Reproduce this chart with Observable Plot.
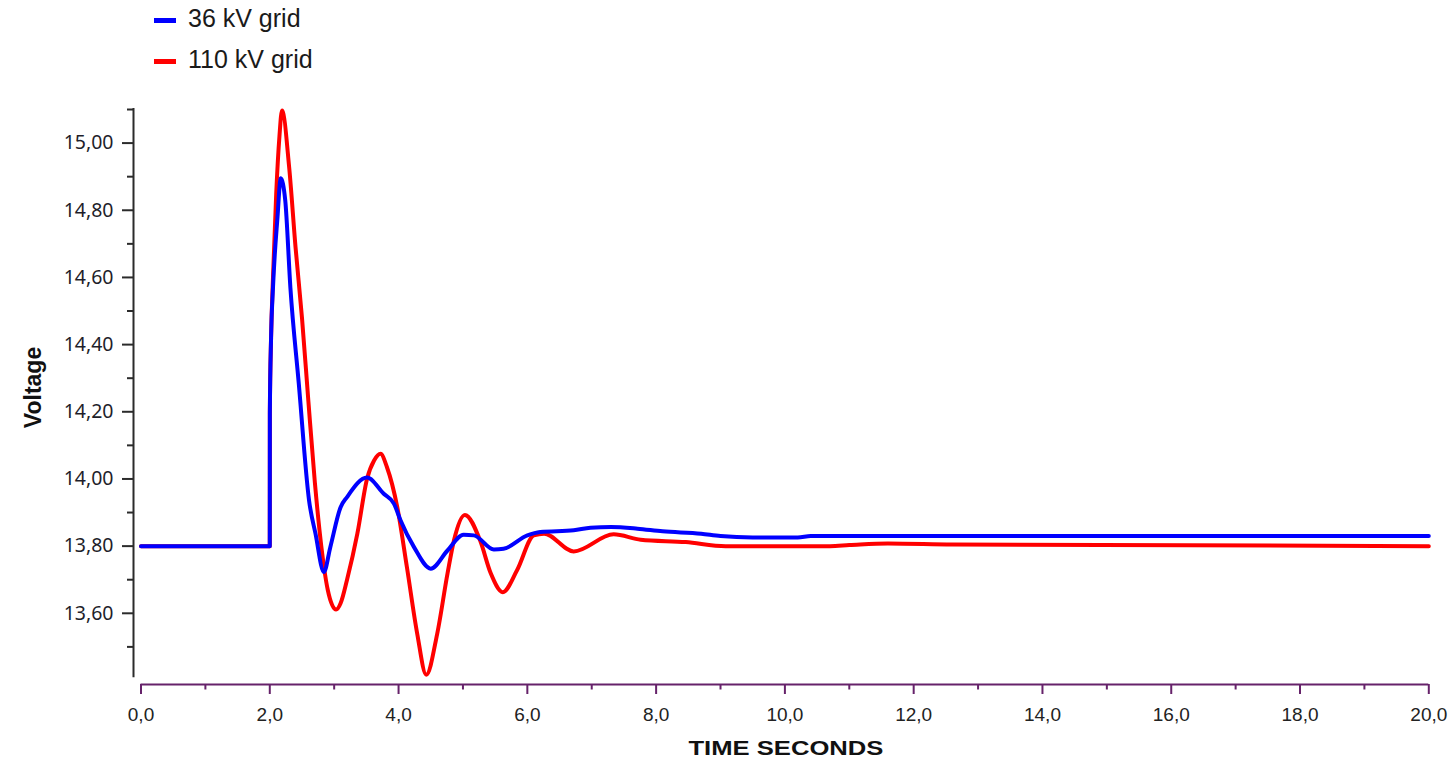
<!DOCTYPE html>
<html>
<head>
<meta charset="utf-8">
<script src="https://cdn.jsdelivr.net/npm/d3@7"></script>
<script src="https://cdn.jsdelivr.net/npm/@observablehq/plot@0.6"></script>
<style>
  html, body { margin: 0; padding: 0; background: #fff; overflow: hidden; }
  #legend { position: relative; height: 90px; width: 1449px; font-family: "Liberation Sans", Arial, sans-serif; }
  .sw { position: absolute; width: 22px; height: 5px; }
  .lt { position: absolute; font-size: 25px; line-height: 25px; color: #1a1a1a; white-space: nowrap; }
</style>
</head>
<body>
<div id="legend"></div>
<div id="chart"></div>
<script>
// ---- data ----
const seriesNames = ["36 kV grid", "110 kV grid"];
const seriesColors = ["#0000ff", "#ff0000"];

const time36 = [0, 2.0, 2.001, 2.02, 2.05, 2.12, 2.17, 2.24, 2.32, 2.45, 2.61, 2.71, 2.84, 2.94, 3.10, 3.20, 3.51, 3.77, 3.93, 4.03, 4.24, 4.50, 4.76, 5.01, 5.17, 5.48, 5.63, 6.0, 6.2, 6.72, 6.98, 7.3, 7.71, 8.1, 8.7, 9.0, 9.5, 10.2, 10.4, 20];
const volt36 = [13.80, 13.80, 14.195, 14.42, 14.57, 14.78, 14.895, 14.83, 14.57, 14.285, 13.936, 13.837, 13.723, 13.797, 13.916, 13.946, 14.004, 13.956, 13.926, 13.877, 13.797, 13.733, 13.787, 13.834, 13.832, 13.790, 13.792, 13.832, 13.842, 13.847, 13.855, 13.857, 13.852, 13.844, 13.837, 13.83, 13.826, 13.826, 13.83, 13.83];

const time110 = [0, 2.0, 2.001, 2.02, 2.05, 2.10, 2.15, 2.19, 2.30, 2.40, 2.50, 2.60, 2.70, 2.80, 2.90, 3.03, 3.10, 3.20, 3.36, 3.51, 3.62, 3.72, 3.82, 3.98, 4.13, 4.29, 4.43, 4.60, 4.76, 4.86, 5.03, 5.27, 5.43, 5.62, 5.84, 6.10, 6.26, 6.72, 7.34, 7.76, 8.46, 9.08, 10.7, 11.0, 11.6, 12.6, 20];
const volt110 = [13.80, 13.80, 14.20, 14.42, 14.60, 14.85, 15.02, 15.097, 14.93, 14.69, 14.48, 14.23, 13.99, 13.80, 13.67, 13.611, 13.630, 13.70, 13.837, 14.0, 14.055, 14.075, 14.035, 13.916, 13.737, 13.539, 13.417, 13.539, 13.718, 13.817, 13.893, 13.815, 13.72, 13.663, 13.728, 13.832, 13.837, 13.784, 13.835, 13.819, 13.812, 13.80, 13.80, 13.803, 13.808, 13.805, 13.80];

const xMajorTicks = [0, 2, 4, 6, 8, 10, 12, 14, 16, 18, 20];
const xMinorTicks = [1, 3, 5, 7, 9, 11, 13, 15, 17, 19];
const yMajorTicks = [13.6, 13.8, 14.0, 14.2, 14.4, 14.6, 14.8, 15.0];
const yMinorTicks = [13.5, 13.7, 13.9, 14.1, 14.3, 14.5, 14.7, 14.9, 15.1];

const xLabel = "TIME SECONDS";
const yLabel = "Voltage";

// axis extents (data units)
const xMin = -0.1165, xMax = 20;
const yMin = 13.388, yMax = 15.103;
const yAxisLow = 13.408;

// ---- legend ----
const legend = document.getElementById("legend");
const swTops = [18, 59], textTops = [6, 47.4];
seriesNames.forEach((n, i) => {
  const sw = document.createElement("div");
  sw.className = "sw";
  sw.style.left = "154px"; sw.style.top = swTops[i] + "px"; sw.style.background = seriesColors[i];
  legend.appendChild(sw);
  const t = document.createElement("div");
  t.className = "lt";
  t.style.left = "188px"; t.style.top = textTops[i] + "px";
  t.textContent = n;
  legend.appendChild(t);
});

// ---- chart ----
const rows36 = time36.map((t, i) => ({t, v: volt36[i]}));
const rows110 = time110.map((t, i) => ({t, v: volt110[i]}));
const axisPurple = "#66226a";
const axisDark = "#2b2b2b";
const fmtY = d => d.toFixed(2).replace(".", ",");
const fmtX = d => d.toFixed(1).replace(".", ",");

const chart = Plot.plot({
  width: 1449,
  height: 672,
  marginTop: 18,
  marginBottom: 78,
  marginLeft: 133,
  marginRight: 20.7,
  style: {fontFamily: "'Liberation Sans', Arial, sans-serif", background: "#fff", color: "#222"},
  x: {domain: [xMin, xMax], label: null},
  y: {domain: [yMin, yMax], label: null},
  marks: [
    Plot.ruleX([xMin], {y1: yAxisLow, y2: yMax, stroke: axisDark, strokeWidth: 2}),
    Plot.axisY({ticks: yMinorTicks, tickSize: 6, tickFormat: () => "", stroke: axisDark, strokeWidth: 2}),
    Plot.axisY({ticks: yMajorTicks, tickSize: 11, tickPadding: 9, tickFormat: fmtY, stroke: axisDark, strokeWidth: 2,
      fill: "#1e1e2a", fontSize: 19.5, fontFamily: "'Noto Sans', 'DejaVu Sans', sans-serif"}),
    Plot.ruleY([yMin], {x1: 0, x2: 20, stroke: axisPurple, strokeWidth: 2}),
    Plot.axisX({ticks: xMinorTicks, tickSize: 5.5, tickFormat: () => "", stroke: axisPurple, strokeWidth: 2}),
    Plot.axisX({ticks: xMajorTicks, tickSize: 10, tickPadding: 13, tickFormat: fmtX, stroke: axisPurple, strokeWidth: 2,
      fill: "#222", fontSize: 19}),
    Plot.line(rows110, {x: "t", y: "v", stroke: seriesColors[1], strokeWidth: 4, curve: "monotone-x"}),
    Plot.line(rows36, {x: "t", y: "v", stroke: seriesColors[0], strokeWidth: 4, curve: "monotone-x"}),
    Plot.text([yLabel], {frameAnchor: "left", textAnchor: "middle", lineAnchor: "middle", rotate: -90, dx: -99.5, dy: -9,
      fontWeight: "bold", fontSize: 23, fill: "#111"}),
    Plot.text([xLabel], {frameAnchor: "bottom", textAnchor: "middle", lineAnchor: "middle", dx: 4.8, dy: 63.5,
      fontWeight: "bold", fontSize: 21, fill: "#111"})
  ]
});
document.getElementById("chart").appendChild(chart);
d3.select(chart).selectAll("text").filter(function() { return this.textContent === xLabel; })
  .attr("textLength", 195).attr("lengthAdjust", "spacingAndGlyphs");
</script>
</body>
</html>
